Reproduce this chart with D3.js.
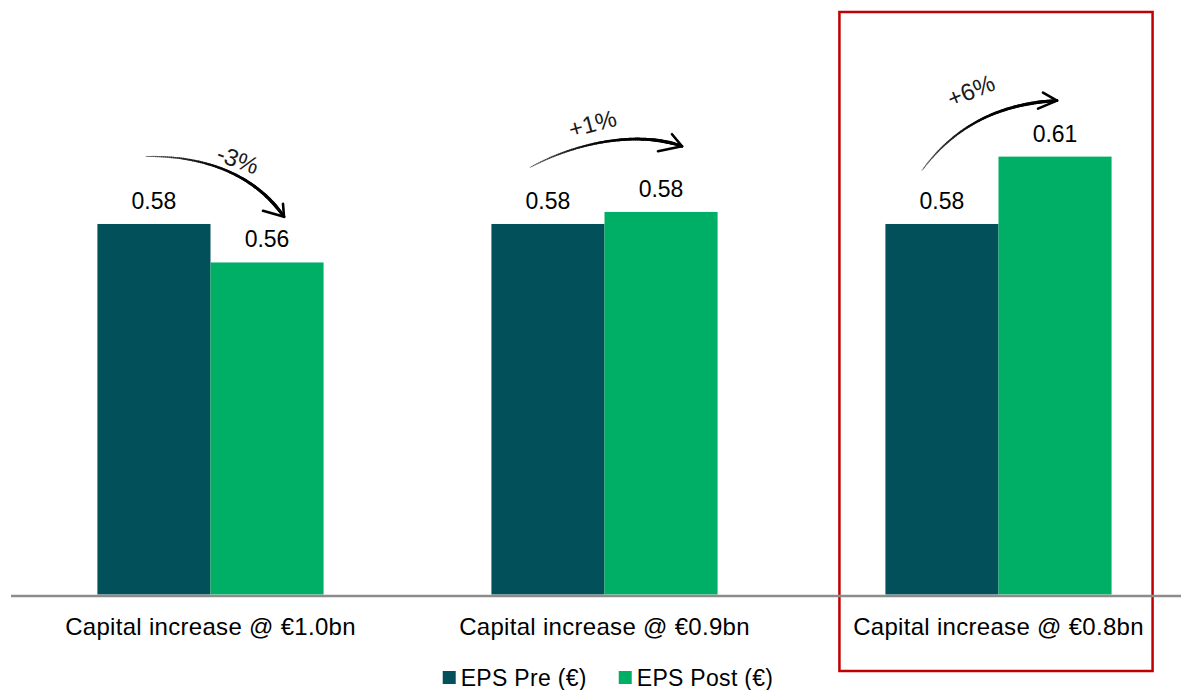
<!DOCTYPE html>
<html>
<head>
<meta charset="utf-8">
<script src="https://cdn.jsdelivr.net/npm/d3@7"></script>
<style>
  html, body { margin: 0; padding: 0; background: #ffffff; }
  svg { display: block; }
  text { font-family: "Liberation Sans", Arial, sans-serif; fill: #000; }
</style>
</head>
<body>
<svg id="chart" width="1181" height="690"></svg>
<script>
// ---- data ----
const categories = ["Capital increase @ €1.0bn", "Capital increase @ €0.9bn", "Capital increase @ €0.8bn"];
const seriesNames = ["EPS Pre (€)", "EPS Post (€)"];
const epsPre = [0.578, 0.578, 0.578];
const epsPost = [0.562, 0.583, 0.606];
const changeLabels = ["-3%", "+1%", "+6%"];
const highlightedCategory = "Capital increase @ €0.8bn";

// ---- style ----
const colors = ["#02505a", "#00af66"];
const W = 1181, H = 690;
const baseY = 594.5;

const svg = d3.select("#chart");

// group scale (one band per scenario) and bar scale inside a band
const x0 = d3.scaleBand().domain(categories)
  .range([13.5, 1195.5]).paddingInner(0.426).paddingOuter(0.213);
const x1 = d3.scaleBand().domain(seriesNames).range([0, x0.bandwidth()]).padding(0);

// value axis does not start at zero
const y = d3.scaleLinear().domain([0.424, 0.62]).range([baseY, baseY - 0.196 * 2406]);

const fmt = d3.format(".2f");

const rows = categories.map((c, i) => ({
  category: c,
  values: [epsPre[i], epsPost[i]],
  change: changeLabels[i]
}));

// highlight frame around the last scenario
const hx = x0(highlightedCategory);
svg.append("rect")
  .attr("x", hx - 46).attr("y", 12)
  .attr("width", x0.bandwidth() + 87).attr("height", 659)
  .attr("fill", "none").attr("stroke", "#c00000").attr("stroke-width", 2.5);

// bars
const groups = svg.selectAll("g.grp").data(rows).join("g")
  .attr("class", "grp")
  .attr("transform", d => `translate(${x0(d.category)},0)`);

groups.selectAll("rect").data(d => d.values.map((v, k) => ({ v, k })))
  .join("rect")
  .attr("x", d => x1(seriesNames[d.k]))
  .attr("width", x1.bandwidth())
  .attr("y", d => y(d.v))
  .attr("height", d => baseY - y(d.v))
  .attr("fill", d => colors[d.k]);

// value labels
groups.selectAll("text.val").data(d => d.values.map((v, k) => ({ v, k })))
  .join("text")
  .attr("class", "val")
  .attr("x", d => x1(seriesNames[d.k]) + x1.bandwidth() / 2)
  .attr("y", d => y(d.v) - 15)
  .attr("text-anchor", "middle")
  .style("font-size", "23px")
  .text(d => fmt(d.v));

// category axis
const axis = svg.append("g")
  .attr("transform", `translate(0,${baseY + 1.5})`)
  .call(d3.axisBottom(x0).tickSize(0).tickPadding(21.5));
axis.select(".domain").attr("stroke", "#8c8c8c").attr("stroke-width", 2.5)
  .attr("d", `M11,0H${W}`);
axis.selectAll(".tick text")
  .style("font-size", "24px")
  .style("letter-spacing", "0.3px")
  .style("font-family", "'Liberation Sans', Arial, sans-serif")
  .attr("fill", "#000");

// hand-drawn change arrows: curve offsets relative to the group centre and bar tops
const arrowShapes = [
  { s: [-64.5, "pre", -67.5], c1: [-5.5, "pre", -68.5], c2: [44.5, "post", -87.7], e: [73.5, "post", -45.7],
    barbs: [[-21, -6], [-1, -13]], label: [27.5, "pre", -64.5], rot: 20 },
  { s: [-74.5, "pre", -56.5], c1: [-24.5, "pre", -83.5], c2: [35.5, "post", -80.7], e: [77.5, "post", -65.7],
    barbs: [[-10, -12], [-24, 5]], label: [-12, "pre", -100.5], rot: -15 },
  { s: [-76.5, "pre", -53.5], c1: [-43.5, "pre", -98.5], c2: [1.5, "post", -53], e: [58.5, "post", -56],
    barbs: [[-14, -8], [-19, 8]], label: [-27.5, "pre", -133.5], rot: -22 }
];

const ann = svg.append("g");
rows.forEach((d, i) => {
  const gx = x0(d.category) + x0.bandwidth() / 2;
  const ref = { pre: y(d.values[0]), post: y(d.values[1]) };
  const A = arrowShapes[i];
  const pt = p => [gx + p[0], ref[p[1]] + p[2]];
  const s = pt(A.s), c1 = pt(A.c1), c2 = pt(A.c2), e = pt(A.e);

  const p = d3.path();
  p.moveTo(...s);
  p.bezierCurveTo(...c1, ...c2, ...e);
  const guide = ann.append("path").attr("d", p.toString()).attr("fill", "none").attr("stroke", "none");
  const node = guide.node();
  const L = node.getTotalLength();
  const N = 80;
  for (let j = 0; j < N; j++) {
    const t = j / N;
    const a = node.getPointAtLength(L * j / N);
    const b = node.getPointAtLength(L * (j + 1) / N);
    const w = 0.9 + 2.6 * Math.pow(t, 0.7) * (t > 0.9 ? 1 - (t - 0.9) * 3 : 1);
    ann.append("line")
      .attr("x1", a.x).attr("y1", a.y).attr("x2", b.x).attr("y2", b.y)
      .attr("stroke", "#000")
      .attr("stroke-opacity", 0.45 + 0.55 * Math.min(1, t * 1.6))
      .attr("stroke-width", w)
      .attr("stroke-linecap", "round");
  }
  A.barbs.forEach(bb => {
    ann.append("line")
      .attr("x1", e[0] + bb[0]).attr("y1", e[1] + bb[1])
      .attr("x2", e[0]).attr("y2", e[1])
      .attr("stroke", "#000").attr("stroke-width", 2.6)
      .attr("stroke-linecap", "round");
  });

  const lp = pt(A.label);
  ann.append("text")
    .attr("transform", `translate(${lp[0]},${lp[1]}) rotate(${A.rot})`)
    .attr("text-anchor", "middle")
    .attr("dominant-baseline", "central")
    .style("font-size", "24px")
    .style("fill", "#1a1a1a")
    .text(d.change);
});

// legend
const legend = svg.append("g");
let lx = 0;
seriesNames.forEach((name, k) => {
  const item = legend.append("g").attr("transform", `translate(${lx},0)`);
  item.append("rect").attr("x", 0).attr("y", 671).attr("width", 13).attr("height", 13)
    .attr("fill", colors[k]);
  const t = item.append("text").attr("x", 18).attr("y", 686)
    .style("font-size", "23px").style("letter-spacing", "0.3px").text(name);
  lx += 18 + t.node().getComputedTextLength() + 32;
});
const legendWidth = lx - 32;
legend.attr("transform", `translate(${608 - legendWidth / 2},0)`);
</script>
</body>
</html>
